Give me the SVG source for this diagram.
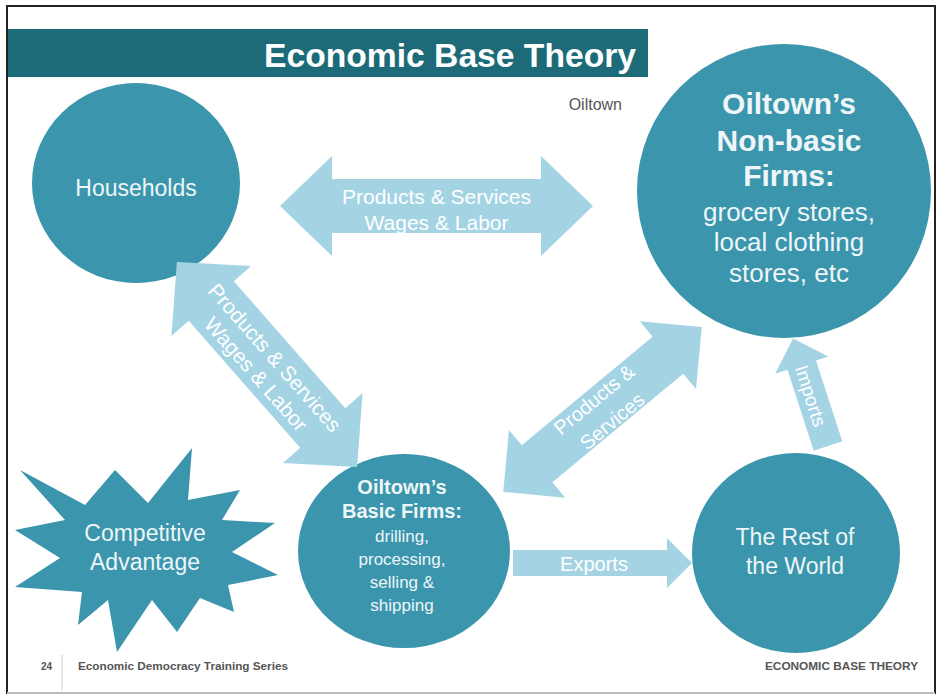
<svg xmlns="http://www.w3.org/2000/svg" width="941" height="698" viewBox="0 0 941 698">
<style>
  .node { fill: #3a95ad; }
  .arrow { fill: #a4d4e4; }
  .ntxt { font-family: "Liberation Sans", Arial, sans-serif; fill: #eef6f8; text-anchor: middle; }
  .atxt { font-family: "Liberation Sans", Arial, sans-serif; fill: #ffffff; text-anchor: middle; }
  .b { font-weight: bold; }
  .foot { font-family: "Liberation Sans", Arial, sans-serif; font-weight: bold; fill: #555; }
</style>
<rect x="0" y="0" width="941" height="698" fill="#ffffff"/>
<g id="frame">
  <line x1="7" y1="6" x2="935" y2="6" stroke="#222" stroke-width="2"/>
  <line x1="7" y1="5" x2="7" y2="694" stroke="#222" stroke-width="2"/>
  <line x1="935" y1="5" x2="935" y2="694" stroke="#222" stroke-width="2"/>
  <line x1="7" y1="693" x2="935" y2="693" stroke="#bbb" stroke-width="2"/>
</g>
<g id="title">
  <rect x="8" y="29" width="640" height="48" fill="#1d6b79"/>
  <text x="636" y="67" text-anchor="end" font-family="Liberation Sans, Arial, sans-serif" font-weight="bold" font-size="33" fill="#ffffff" textLength="372" lengthAdjust="spacingAndGlyphs">Economic Base Theory</text>
  <text x="622" y="110" text-anchor="end" font-family="Liberation Sans, Arial, sans-serif" font-size="16" fill="#555">Oiltown</text>
</g>
<g id="households">
  <ellipse class="node" cx="136" cy="183" rx="104" ry="100"/>
  <text class="ntxt" x="136" y="196" font-size="23">Households</text>
</g>
<g id="nonbasic">
  <circle class="node" cx="784" cy="191" r="147"/>
  <text class="ntxt b" x="789" y="114" font-size="30">Oiltown’s</text>
  <text class="ntxt b" x="789" y="151" font-size="30">Non-basic</text>
  <text class="ntxt b" x="789" y="186" font-size="30">Firms:</text>
  <text class="ntxt" x="789" y="221" font-size="26">grocery stores,</text>
  <text class="ntxt" x="789" y="251" font-size="26">local clothing</text>
  <text class="ntxt" x="789" y="282" font-size="26">stores, etc</text>
</g>
<g id="basic">
  <ellipse class="node" cx="404" cy="551" rx="106" ry="97"/>
  <text class="ntxt b" x="402" y="494" font-size="20">Oiltown’s</text>
  <text class="ntxt b" x="402" y="518" font-size="20">Basic Firms:</text>
  <text class="ntxt" x="402" y="542" font-size="17">drilling,</text>
  <text class="ntxt" x="402" y="565" font-size="17">processing,</text>
  <text class="ntxt" x="402" y="588" font-size="17">selling &amp;</text>
  <text class="ntxt" x="402" y="611" font-size="17">shipping</text>
</g>
<g id="world">
  <ellipse class="node" cx="796" cy="553" rx="104" ry="100"/>
  <text class="ntxt" x="795" y="545" font-size="23">The Rest of</text>
  <text class="ntxt" x="795" y="574" font-size="23">the World</text>
</g>
<g id="advantage">
  <polygon class="node" points="20,470 85,505 115,470 148,503 192,448 188,500 240,490 222,520 275,523 232,552 278,575 228,585 234,612 200,598 177,632 152,600 117,652 108,600 78,625 82,592 15,587 60,558 15,530 65,520"/>
  <text class="ntxt" x="145" y="541" font-size="23">Competitive</text>
  <text class="ntxt" x="145" y="570" font-size="23">Advantage</text>
</g>
<g id="connectors">
  <g id="hh-nonbasic" transform="translate(436.5,206)">
    <path class="arrow" d="M-156.5,0 L-104.5,-50 L-104.5,-27 L104.5,-27 L104.5,-50 L156.5,0 L104.5,50 L104.5,27 L-104.5,27 L-104.5,50 Z"/>
    <text class="atxt" x="0" y="-2" font-size="21">Products &amp; Services</text>
    <text class="atxt" x="0" y="24" font-size="21">Wages &amp; Labor</text>
  </g>
  <g id="hh-basic" transform="translate(267,364.5) rotate(48.7)">
    <path class="arrow" d="M-136.5,0 L-84.5,-53 L-84.5,-30 L84.5,-30 L84.5,-53 L136.5,0 L84.5,53 L84.5,30 L-84.5,30 L-84.5,53 Z"/>
    <text class="atxt" x="0" y="-3" font-size="21">Products &amp; Services</text>
    <text class="atxt" x="0" y="22" font-size="21">Wages &amp; Labor</text>
  </g>
  <g id="basic-nonbasic" transform="translate(602.5,409.5) rotate(-39.7)">
    <path class="arrow" d="M-129,0 L-85,-44 L-85,-24 L85,-24 L85,-44 L129,0 L85,44 L85,24 L-85,24 L-85,44 Z"/>
    <text class="atxt" x="0" y="-6" font-size="20">Products &amp;</text>
    <text class="atxt" x="0" y="22" font-size="20">Services</text>
  </g>
  <g id="exports">
    <path class="arrow" d="M513,550 L667,550 L667,538 L692,563 L667,588 L667,576 L513,576 Z"/>
    <text class="atxt" x="594" y="571" font-size="20">Exports</text>
  </g>
  <g id="imports">
    <path class="arrow" transform="translate(828,446) rotate(-108)" d="M0,-15 L85,-15 L85,-28 L113,0 L85,28 L85,15 L0,15 Z"/>
    <text class="atxt" transform="translate(810,396) rotate(72)" x="0" y="6" font-size="19">Imports</text>
  </g>
</g>
<g id="footer">
  <text class="foot" x="41" y="670" font-size="10">24</text>
  <line x1="62" y1="655" x2="62" y2="690" stroke="#ccc" stroke-width="1"/>
  <text class="foot" x="78" y="670" font-size="10" textLength="210" lengthAdjust="spacingAndGlyphs">Economic Democracy Training Series</text>
  <text class="foot" x="918" y="670" font-size="10" text-anchor="end" textLength="153" lengthAdjust="spacingAndGlyphs">ECONOMIC BASE THEORY</text>
</g>
</svg>
